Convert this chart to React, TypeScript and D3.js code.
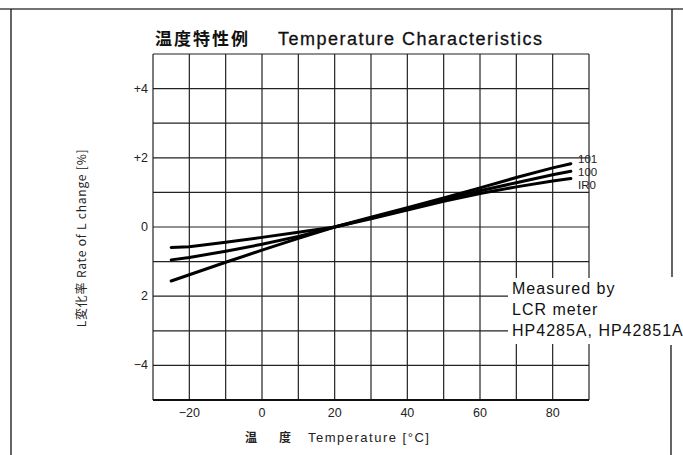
import React, { useRef, useEffect } from 'react';
import * as d3 from 'd3';

// Data
const temps = [-25, -20, -10, 0, 10, 20, 30, 40, 50, 60, 70, 80, 85];
const series101 = [-1.56, -1.38, -1.02, -0.67, -0.33, 0, 0.28, 0.56, 0.84, 1.13, 1.43, 1.71, 1.83];
const series100 = [-0.95, -0.88, -0.7, -0.5, -0.27, 0, 0.26, 0.52, 0.79, 1.05, 1.28, 1.51, 1.61];
const seriesIR0 = [-0.59, -0.57, -0.44, -0.3, -0.15, 0, 0.24, 0.49, 0.74, 0.97, 1.16, 1.33, 1.4];
const seriesNames = ['101', '100', 'IR0'];
const xTicks = [-20, 0, 20, 40, 60, 80];
const yTicks = [4, 2, 0, -2, -4];
const yTickLabels = ['+4', '+2', '0', '2', '\u22124'];
const noteLines = ['Measured by', 'LCR meter', 'HP4285A, HP42851A'];

const FONT = '"Liberation Sans", Arial, sans-serif';
const CJK = '"Noto Sans CJK JP", "Liberation Sans", sans-serif';

const App = () => {
  const chartRef = useRef(null);

  useEffect(() => {
    d3.select(chartRef.current).selectAll('*').remove();

    const width = 683;
    const height = 455;

    const x = d3.scaleLinear().domain([-30, 90]).range([153, 589]);
    const y = d3.scaleLinear().domain([-5, 5]).range([400, 54]);

    const svg = d3.select(chartRef.current)
      .append('svg')
      .attr('width', width)
      .attr('height', height)
      .style('position', 'absolute')
      .style('left', 0)
      .style('top', 0)
      .style('background', '#fff');

    // outer frame of the scanned page
    const frame = svg.append('g').attr('stroke', '#111').attr('stroke-width', 1.3);
    frame.append('line').attr('x1', 0).attr('x2', 683).attr('y1', 9).attr('y2', 9).attr('stroke', '#444');
    frame.append('line').attr('x1', 11).attr('x2', 11).attr('y1', 9).attr('y2', 455);
    frame.append('line').attr('x1', 672).attr('x2', 672).attr('y1', 9).attr('y2', 277);
    frame.append('line').attr('x1', 671).attr('x2', 671).attr('y1', 345).attr('y2', 455);

    // title
    const title = svg.append('text')
      .attr('x', 155)
      .attr('y', 45)
      .attr('fill', '#111');
    title.append('tspan')
      .attr('font-family', CJK)
      .attr('font-weight', 'bold')
      .attr('font-size', 17)
      .attr('letter-spacing', 2)
      .text('温度特性例');
    title.append('tspan')
      .attr('x', 278)
      .attr('font-family', FONT)
      .attr('font-size', 18)
      .attr('letter-spacing', 1.5)
      .attr('stroke', '#111')
      .attr('stroke-width', 0.3)
      .text('Temperature Characteristics');

    // grid
    const grid = svg.append('g').attr('stroke', '#222').attr('stroke-width', 1.2);
    grid.selectAll('.vline')
      .data(d3.range(-30, 91, 10))
      .enter()
      .append('line')
      .attr('x1', d => x(d))
      .attr('x2', d => x(d))
      .attr('y1', y(5))
      .attr('y2', y(-5));
    grid.selectAll('.hline')
      .data(d3.range(-5, 6, 1))
      .enter()
      .append('line')
      .attr('x1', x(-30))
      .attr('x2', x(90))
      .attr('y1', d => y(d))
      .attr('y2', d => y(d));
    svg.append('line')
      .attr('x1', x(-30)).attr('x2', x(90))
      .attr('y1', y(-5)).attr('y2', y(-5))
      .attr('stroke', '#111').attr('stroke-width', 2);

    // x tick labels
    svg.append('g')
      .selectAll('text')
      .data(xTicks)
      .enter()
      .append('text')
      .attr('x', d => x(d))
      .attr('y', 417)
      .attr('text-anchor', 'middle')
      .attr('font-family', FONT)
      .attr('font-size', 12.5)
      .attr('fill', '#222')
      .text(d => (d < 0 ? '\u2212' + Math.abs(d) : String(d)));

    // y tick labels
    svg.append('g')
      .selectAll('text')
      .data(yTicks)
      .enter()
      .append('text')
      .attr('x', 148)
      .attr('y', d => y(d) + 4)
      .attr('text-anchor', 'end')
      .attr('font-family', FONT)
      .attr('font-size', 12.5)
      .attr('fill', '#222')
      .text((d, i) => yTickLabels[i]);

    // axis titles
    const xTitle = svg.append('text')
      .attr('x', 245)
      .attr('y', 442)
      .attr('fill', '#222');
    xTitle.append('tspan')
      .attr('font-family', CJK)
      .attr('font-size', 12)
      .attr('font-weight', 'bold')
      .attr('letter-spacing', 22)
      .text('温度');
    xTitle.append('tspan')
      .attr('x', 308)
      .attr('font-family', FONT)
      .attr('font-size', 13)
      .attr('letter-spacing', 1.5)
      .text('Temperature [°C]');

    svg.append('text')
      .attr('transform', 'translate(86,238) rotate(-90)')
      .attr('text-anchor', 'middle')
      .attr('font-family', CJK)
      .attr('font-size', 12)
      .attr('letter-spacing', 0.8)
      .attr('fill', '#222')
      .text('L変化率 Rate of L change [%]');

    // curves
    const allSeries = [series101, series100, seriesIR0];
    const line = d3.line<number>()
      .x((d, i) => x(temps[i]))
      .y(d => y(d));

    svg.append('g')
      .selectAll('path')
      .data(allSeries)
      .enter()
      .append('path')
      .attr('d', d => line(d))
      .attr('fill', 'none')
      .attr('stroke', '#000')
      .attr('stroke-width', 3)
      .attr('stroke-linecap', 'round');

    // series labels at line ends
    svg.append('g')
      .selectAll('text')
      .data(seriesNames)
      .enter()
      .append('text')
      .attr('x', 578)
      .attr('y', (d, i) => 163 + i * 13)
      .attr('font-family', FONT)
      .attr('font-size', 11.5)
      .attr('fill', '#222')
      .text(d => d);

    // measurement note
    svg.append('rect')
      .attr('x', 508)
      .attr('y', 278)
      .attr('width', 175)
      .attr('height', 66)
      .attr('fill', '#fff');
    svg.append('g')
      .selectAll('text')
      .data(noteLines)
      .enter()
      .append('text')
      .attr('x', 512)
      .attr('y', (d, i) => 294 + i * 21)
      .attr('font-family', FONT)
      .attr('font-size', 16)
      .attr('letter-spacing', 1)
      .attr('fill', '#111')
      .text(d => d);

    return () => {
      d3.select(chartRef.current).selectAll('*').remove();
    };
  }, []);

  return <div ref={chartRef} style={{ width: '683px', height: '455px' }} />;
};

export default App;
